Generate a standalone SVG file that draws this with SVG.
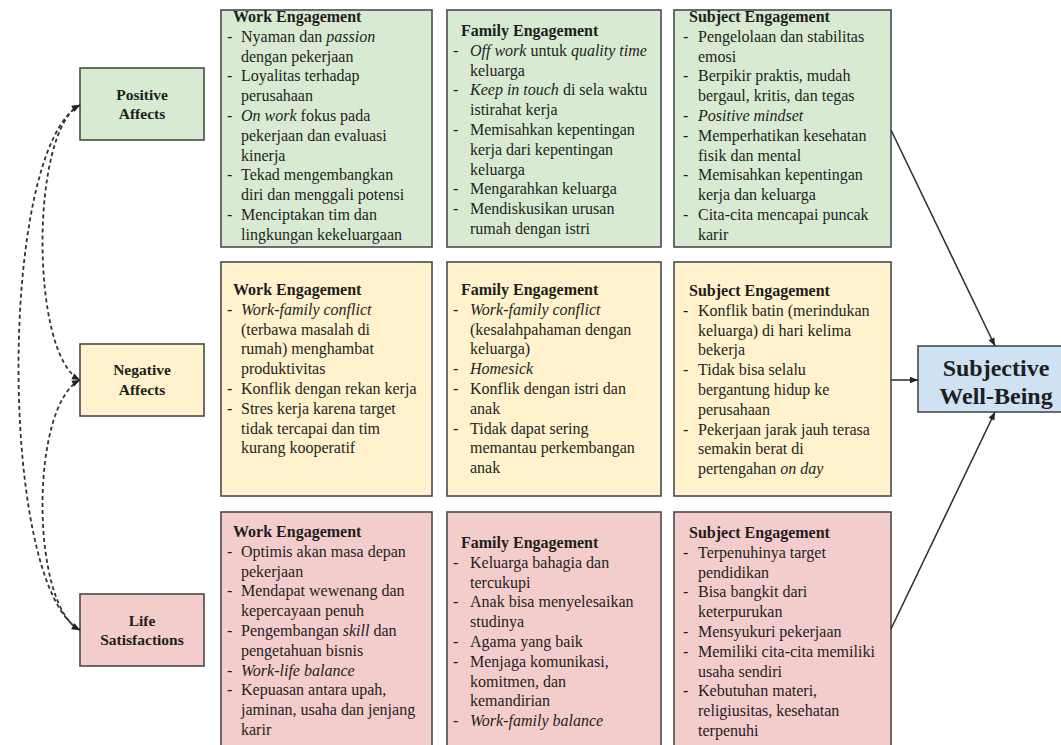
<svg xmlns="http://www.w3.org/2000/svg" width="1061" height="745" viewBox="0 0 1061 745">
<defs>
<marker id="ah" viewBox="0 0 10 10" refX="10" refY="5" markerWidth="9" markerHeight="8" markerUnits="userSpaceOnUse" orient="auto-start-reverse"><path d="M0,1 L10,5 L0,9 z" fill="#222"/></marker>
</defs>
<style>
.box{stroke:#4a4a4a;stroke-width:1.6}
.g{fill:#d9ead3}.y{fill:#fff2cc}.p{fill:#f4cccc}.b{fill:#cfe2f3}
text{font-family:"Liberation Serif","Times New Roman",serif;fill:#1e1e1e}
.t{font-size:16px}
.h{font-size:16px;font-weight:bold}
.n{font-size:15.5px;font-weight:bold;text-anchor:middle}
.s{font-size:24px;font-weight:bold;text-anchor:middle}
.i{font-style:italic}
.c{fill:none;stroke:#2a2a2a;stroke-width:1.5}
.d{fill:none;stroke:#333;stroke-width:1.8;stroke-dasharray:4 3}
</style>
<rect width="1061" height="745" fill="#ffffff"/>

<g id="positive-affects">
<rect class="box g" x="80" y="68" width="124" height="72"/>
<text class="n" x="142" y="100">Positive</text>
<text class="n" x="142" y="119">Affects</text>
</g>
<g id="negative-affects">
<rect class="box y" x="80" y="344" width="124" height="72"/>
<text class="n" x="142" y="375">Negative</text>
<text class="n" x="142" y="395">Affects</text>
</g>
<g id="life-satisfactions">
<rect class="box p" x="80" y="594" width="124" height="72"/>
<text class="n" x="142" y="626">Life</text>
<text class="n" x="142" y="645">Satisfactions</text>
</g>

<g id="pos-work">
<rect class="box g" x="221" y="10" width="211" height="237"/>
<text class="h" x="233" y="22">Work Engagement</text>
<g class="t">
<text x="227" y="41.8">-</text><text x="241" y="41.8">Nyaman dan <tspan class="i">passion</tspan></text>
<text x="241" y="61.6">dengan pekerjaan</text>
<text x="227" y="81.4">-</text><text x="241" y="81.4">Loyalitas terhadap</text>
<text x="241" y="101.2">perusahaan</text>
<text x="227" y="121">-</text><text x="241" y="121"><tspan class="i">On work</tspan> fokus pada</text>
<text x="241" y="140.8">pekerjaan dan evaluasi</text>
<text x="241" y="160.6">kinerja</text>
<text x="227" y="180.4">-</text><text x="241" y="180.4">Tekad mengembangkan</text>
<text x="241" y="200.2">diri dan menggali potensi</text>
<text x="227" y="220">-</text><text x="241" y="220">Menciptakan tim dan</text>
<text x="241" y="239.8">lingkungan kekeluargaan</text>
</g>
</g>

<g id="pos-family">
<rect class="box g" x="447" y="10" width="214" height="237"/>
<text class="h" x="461" y="36">Family Engagement</text>
<g class="t">
<text x="453" y="55.8">-</text><text x="470" y="55.8"><tspan class="i">Off work</tspan> untuk <tspan class="i">quality time</tspan></text>
<text x="470" y="75.6">keluarga</text>
<text x="453" y="95.4">-</text><text x="470" y="95.4"><tspan class="i">Keep in touch</tspan> di sela waktu</text>
<text x="470" y="115.2">istirahat kerja</text>
<text x="453" y="135">-</text><text x="470" y="135">Memisahkan kepentingan</text>
<text x="470" y="154.8">kerja dari kepentingan</text>
<text x="470" y="174.6">keluarga</text>
<text x="453" y="194.4">-</text><text x="470" y="194.4">Mengarahkan keluarga</text>
<text x="453" y="214.2">-</text><text x="470" y="214.2">Mendiskusikan urusan</text>
<text x="470" y="234">rumah dengan istri</text>
</g>
</g>

<g id="pos-subject">
<rect class="box g" x="674" y="10" width="217" height="237"/>
<text class="h" x="689" y="22">Subject Engagement</text>
<g class="t">
<text x="683" y="41.8">-</text><text x="698" y="41.8">Pengelolaan dan stabilitas</text>
<text x="698" y="61.6">emosi</text>
<text x="683" y="81.4">-</text><text x="698" y="81.4">Berpikir praktis, mudah</text>
<text x="698" y="101.2">bergaul, kritis, dan tegas</text>
<text x="683" y="121">-</text><text x="698" y="121" class="i">Positive mindset</text>
<text x="683" y="140.8">-</text><text x="698" y="140.8">Memperhatikan kesehatan</text>
<text x="698" y="160.6">fisik dan mental</text>
<text x="683" y="180.4">-</text><text x="698" y="180.4">Memisahkan kepentingan</text>
<text x="698" y="200.2">kerja dan keluarga</text>
<text x="683" y="220">-</text><text x="698" y="220">Cita-cita mencapai puncak</text>
<text x="698" y="239.8">karir</text>
</g>
</g>

<g id="neg-work">
<rect class="box y" x="221" y="262" width="211" height="234"/>
<text class="h" x="233" y="295">Work Engagement</text>
<g class="t">
<text x="227" y="314.8">-</text><text x="241" y="314.8" class="i">Work-family conflict</text>
<text x="241" y="334.6">(terbawa masalah di</text>
<text x="241" y="354.4">rumah) menghambat</text>
<text x="241" y="374.2">produktivitas</text>
<text x="227" y="394">-</text><text x="241" y="394">Konflik dengan rekan kerja</text>
<text x="227" y="413.8">-</text><text x="241" y="413.8">Stres kerja karena target</text>
<text x="241" y="433.6">tidak tercapai dan tim</text>
<text x="241" y="453.4">kurang kooperatif</text>
</g>
</g>

<g id="neg-family">
<rect class="box y" x="447" y="262" width="214" height="234"/>
<text class="h" x="461" y="295">Family Engagement</text>
<g class="t">
<text x="453" y="314.8">-</text><text x="470" y="314.8" class="i">Work-family conflict</text>
<text x="470" y="334.6">(kesalahpahaman dengan</text>
<text x="470" y="354.4">keluarga)</text>
<text x="453" y="374.2">-</text><text x="470" y="374.2" class="i">Homesick</text>
<text x="453" y="394">-</text><text x="470" y="394">Konflik dengan istri dan</text>
<text x="470" y="413.8">anak</text>
<text x="453" y="433.6">-</text><text x="470" y="433.6">Tidak dapat sering</text>
<text x="470" y="453.4">memantau perkembangan</text>
<text x="470" y="473.2">anak</text>
</g>
</g>

<g id="neg-subject">
<rect class="box y" x="674" y="262" width="217" height="234"/>
<text class="h" x="689" y="296">Subject Engagement</text>
<g class="t">
<text x="683" y="315.8">-</text><text x="698" y="315.8">Konflik batin (merindukan</text>
<text x="698" y="335.6">keluarga) di hari kelima</text>
<text x="698" y="355.4">bekerja</text>
<text x="683" y="375.2">-</text><text x="698" y="375.2">Tidak bisa selalu</text>
<text x="698" y="395">bergantung hidup ke</text>
<text x="698" y="414.8">perusahaan</text>
<text x="683" y="434.6">-</text><text x="698" y="434.6">Pekerjaan jarak jauh terasa</text>
<text x="698" y="454.4">semakin berat di</text>
<text x="698" y="474.2">pertengahan <tspan class="i">on day</tspan></text>
</g>
</g>

<g id="life-work">
<rect class="box p" x="221" y="512" width="211" height="250"/>
<text class="h" x="233" y="537">Work Engagement</text>
<g class="t">
<text x="227" y="556.8">-</text><text x="241" y="556.8">Optimis akan masa depan</text>
<text x="241" y="576.6">pekerjaan</text>
<text x="227" y="596.4">-</text><text x="241" y="596.4">Mendapat wewenang dan</text>
<text x="241" y="616.2">kepercayaan penuh</text>
<text x="227" y="636">-</text><text x="241" y="636">Pengembangan <tspan class="i">skill</tspan> dan</text>
<text x="241" y="655.8">pengetahuan bisnis</text>
<text x="227" y="675.6">-</text><text x="241" y="675.6" class="i">Work-life balance</text>
<text x="227" y="695.4">-</text><text x="241" y="695.4">Kepuasan antara upah,</text>
<text x="241" y="715.2">jaminan, usaha dan jenjang</text>
<text x="241" y="735">karir</text>
</g>
</g>

<g id="life-family">
<rect class="box p" x="447" y="512" width="214" height="250"/>
<text class="h" x="461" y="548">Family Engagement</text>
<g class="t">
<text x="453" y="567.8">-</text><text x="470" y="567.8">Keluarga bahagia dan</text>
<text x="470" y="587.6">tercukupi</text>
<text x="453" y="607.4">-</text><text x="470" y="607.4">Anak bisa menyelesaikan</text>
<text x="470" y="627.2">studinya</text>
<text x="453" y="647">-</text><text x="470" y="647">Agama yang baik</text>
<text x="453" y="666.8">-</text><text x="470" y="666.8">Menjaga komunikasi,</text>
<text x="470" y="686.6">komitmen, dan</text>
<text x="470" y="706.4">kemandirian</text>
<text x="453" y="726.2">-</text><text x="470" y="726.2" class="i">Work-family balance</text>
</g>
</g>

<g id="life-subject">
<rect class="box p" x="674" y="512" width="217" height="250"/>
<text class="h" x="689" y="538">Subject Engagement</text>
<g class="t">
<text x="683" y="557.8">-</text><text x="698" y="557.8">Terpenuhinya target</text>
<text x="698" y="577.6">pendidikan</text>
<text x="683" y="597.4">-</text><text x="698" y="597.4">Bisa bangkit dari</text>
<text x="698" y="617.2">keterpurukan</text>
<text x="683" y="637">-</text><text x="698" y="637">Mensyukuri pekerjaan</text>
<text x="683" y="656.8">-</text><text x="698" y="656.8">Memiliki cita-cita memiliki</text>
<text x="698" y="676.6">usaha sendiri</text>
<text x="683" y="696.4">-</text><text x="698" y="696.4">Kebutuhan materi,</text>
<text x="698" y="716.2">religiusitas, kesehatan</text>
<text x="698" y="736">terpenuhi</text>
</g>
</g>

<g id="subjective-well-being">
<rect class="box b" x="918" y="346" width="160" height="66"/>
<text class="s" x="996" y="376">Subjective</text>
<text class="s" x="996" y="404">Well-Being</text>
</g>

<g id="connectors">
<path class="d" d="M80,105 C30,130 30,355 80,380" marker-start="url(#ah)" marker-end="url(#ah)"/>
<path class="d" d="M80,380 C30,405 30,605 80,630" marker-start="url(#ah)" marker-end="url(#ah)"/>
<path class="d" d="M80,105 C-2,150 -2,585 80,630" marker-start="url(#ah)" marker-end="url(#ah)"/>
<line class="c" x1="891" y1="130" x2="995" y2="346" marker-end="url(#ah)"/>
<line class="c" x1="891" y1="380" x2="918" y2="380" marker-end="url(#ah)"/>
<line class="c" x1="891" y1="629" x2="995" y2="412" marker-end="url(#ah)"/>
</g>
</svg>
